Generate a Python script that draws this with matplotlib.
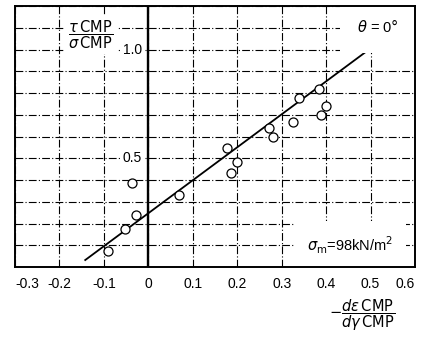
import matplotlib
matplotlib.use("Agg")
import matplotlib.pyplot as plt

# valores (dε/dγ, τ/σ)
X_PONTOS = [-0.09, -0.052, -0.027, -0.036, 0.07, 0.178, 0.187, 0.199,
            0.271, 0.28, 0.325, 0.339, 0.384, 0.388, 0.40]
Y_PONTOS = [0.074, 0.175, 0.24, 0.386, 0.33, 0.545, 0.432, 0.483,
            0.64, 0.598, 0.666, 0.777, 0.818, 0.70, 0.74]

# reta ajustada (extremos)
RETA_X = [-0.142, 0.49]
RETA_Y = [0.032, 0.99]

X_TICKS = [-0.3, -0.2, -0.1, 0.0, 0.1, 0.2, 0.3, 0.4, 0.5, 0.6]
X_ROTULOS = ["-0.3", "-0.2", "-0.1", "0", "0.1", "0.2", "0.3", "0.4", "0.5", "0.6"]
Y_GRADE = [0.1 * i for i in range(13)]
Y_ROTULOS = {0.5: "0.5", 1.0: "1.0"}

plt.rcParams["font.family"] = ["Liberation Sans", "DejaVu Sans"]
plt.rcParams["mathtext.fontset"] = "dejavusans"

fig = plt.figure(figsize=(4.23, 3.39), dpi=100)
ax = fig.add_axes([15 / 423, 1 - 267 / 339, 400 / 423, 261 / 339])

ax.set_xlim(-0.3, 0.6)
ax.set_ylim(0, 1.2)

estilo_grade = dict(color="black", linewidth=0.8, linestyle=(0, (7, 2, 1, 2)))
ax.set_xticks(X_TICKS)
ax.set_xticklabels(X_ROTULOS, fontsize=10)
rot = ax.xaxis.get_ticklabels()
rot[0].set_horizontalalignment("left")
rot[-1].set_horizontalalignment("right")
ax.set_yticks(Y_GRADE)
ax.set_yticklabels([])
ax.tick_params(length=0, pad=7)
ax.grid(True, **estilo_grade)
ax.set_axisbelow(True)

ax.axvline(0, color="black", linewidth=1.7, zorder=2)

for s in ax.spines.values():
    s.set_linewidth(1.4)
    s.set_zorder(6)

ax.plot(RETA_X, RETA_Y, color="black", linewidth=1.3, zorder=3)
ax.plot(X_PONTOS, Y_PONTOS, linestyle="none", marker="o", markersize=6.5,
        markerfacecolor="white", markeredgecolor="black", markeredgewidth=0.9, zorder=4)

fundo = dict(facecolor="white", edgecolor="none", boxstyle="square,pad=0.15")
for v, txt in Y_ROTULOS.items():
    ax.text(-0.015, v, txt, ha="right", va="center", fontsize=10, bbox=fundo, zorder=5)

ax.text(-0.129, 1.067, r"$\dfrac{\tau\,\mathrm{CMP}}{\sigma\,\mathrm{CMP}}$", ha="center",
        va="center", fontsize=10.5, zorder=5,
        bbox=dict(facecolor="white", edgecolor="none", boxstyle="square,pad=0.2"))

ax.text(0.517, 1.105, r"$\theta$ = 0$\degree$", ha="center", va="center", fontsize=10.5, zorder=5,
        bbox=dict(facecolor="white", edgecolor="none", boxstyle="square,pad=1.2"))

ax.text(0.454, 0.10, r"$\sigma_\mathrm{m}$=98kN/m$^2$", ha="center", va="center",
        fontsize=10.5, zorder=5,
        bbox=dict(facecolor="white", edgecolor="none", boxstyle="square,pad=0.9"))

fig.text(362 / 423, 1 - 315 / 339, r"$-\dfrac{d\epsilon\,\mathrm{CMP}}{d\gamma\,\mathrm{CMP}}$",
         ha="center", va="center", fontsize=10.5)

fig.savefig("out.png", dpi=100)
plt.close(fig)
